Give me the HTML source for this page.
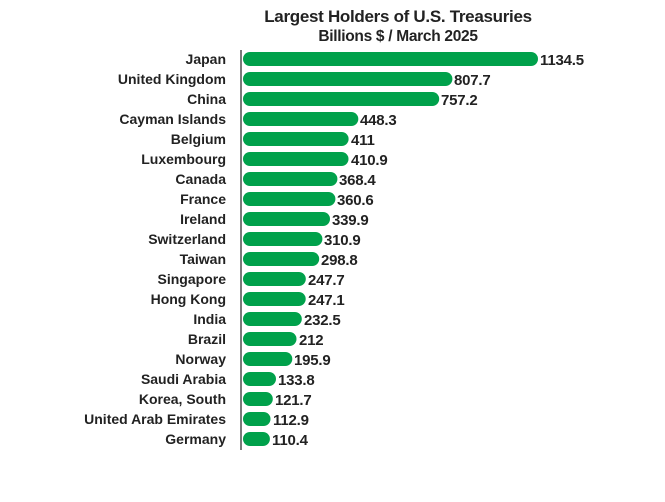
<!DOCTYPE html>
<html><head><meta charset="utf-8"><style>
body{margin:0;background:#fff;}
</style></head><body>
<svg width="665" height="497" xmlns="http://www.w3.org/2000/svg" font-family="Liberation Sans, sans-serif" font-weight="bold" fill="#222">
<text x="398" y="22" text-anchor="middle" font-size="17" letter-spacing="-0.3">Largest Holders of U.S. Treasuries</text>
<text x="398" y="41" text-anchor="middle" font-size="15.5" letter-spacing="-0.3">Billions $ / March 2025</text>
<line x1="241" y1="50" x2="241" y2="450" stroke="#333" stroke-width="1.3"/>
<g font-size="14">
<text x="226" y="64" text-anchor="end">Japan</text>
<text x="226" y="84" text-anchor="end">United Kingdom</text>
<text x="226" y="104" text-anchor="end">China</text>
<text x="226" y="124" text-anchor="end">Cayman Islands</text>
<text x="226" y="144" text-anchor="end">Belgium</text>
<text x="226" y="164" text-anchor="end">Luxembourg</text>
<text x="226" y="184" text-anchor="end">Canada</text>
<text x="226" y="204" text-anchor="end">France</text>
<text x="226" y="224" text-anchor="end">Ireland</text>
<text x="226" y="244" text-anchor="end">Switzerland</text>
<text x="226" y="264" text-anchor="end">Taiwan</text>
<text x="226" y="284" text-anchor="end">Singapore</text>
<text x="226" y="304" text-anchor="end">Hong Kong</text>
<text x="226" y="324" text-anchor="end">India</text>
<text x="226" y="344" text-anchor="end">Brazil</text>
<text x="226" y="364" text-anchor="end">Norway</text>
<text x="226" y="384" text-anchor="end">Saudi Arabia</text>
<text x="226" y="404" text-anchor="end">Korea, South</text>
<text x="226" y="424" text-anchor="end">United Arab Emirates</text>
<text x="226" y="444" text-anchor="end">Germany</text>
</g>
<g fill="#00a14b">
<rect x="243" y="52" width="295" height="14" rx="7"/>
<rect x="243" y="72" width="209.4" height="14" rx="7"/>
<rect x="243" y="92" width="196.2" height="14" rx="7"/>
<rect x="243" y="112" width="115.3" height="14" rx="7"/>
<rect x="243" y="132" width="105.6" height="14" rx="7"/>
<rect x="243" y="152" width="105.5" height="14" rx="7"/>
<rect x="243" y="172" width="94.4" height="14" rx="7"/>
<rect x="243" y="192" width="92.4" height="14" rx="7"/>
<rect x="243" y="212" width="87" height="14" rx="7"/>
<rect x="243" y="232" width="79.4" height="14" rx="7"/>
<rect x="243" y="252" width="76.2" height="14" rx="7"/>
<rect x="243" y="272" width="62.8" height="14" rx="7"/>
<rect x="243" y="292" width="62.7" height="14" rx="7"/>
<rect x="243" y="312" width="58.8" height="14" rx="7"/>
<rect x="243" y="332" width="53.5" height="14" rx="7"/>
<rect x="243" y="352" width="49.3" height="14" rx="7"/>
<rect x="243" y="372" width="33" height="14" rx="7"/>
<rect x="243" y="392" width="29.8" height="14" rx="7"/>
<rect x="243" y="412" width="27.5" height="14" rx="7"/>
<rect x="243" y="432" width="26.9" height="14" rx="7"/>
</g>
<g font-size="15" letter-spacing="-0.2">
<text x="540" y="65">1134.5</text>
<text x="454" y="85">807.7</text>
<text x="441" y="105">757.2</text>
<text x="360" y="125">448.3</text>
<text x="351" y="145">411</text>
<text x="351" y="165">410.9</text>
<text x="339" y="185">368.4</text>
<text x="337" y="205">360.6</text>
<text x="332" y="225">339.9</text>
<text x="324" y="245">310.9</text>
<text x="321" y="265">298.8</text>
<text x="308" y="285">247.7</text>
<text x="308" y="305">247.1</text>
<text x="304" y="325">232.5</text>
<text x="299" y="345">212</text>
<text x="294" y="365">195.9</text>
<text x="278" y="385">133.8</text>
<text x="275" y="405">121.7</text>
<text x="273" y="425">112.9</text>
<text x="272" y="445">110.4</text>
</g>
</svg>
</body></html>
